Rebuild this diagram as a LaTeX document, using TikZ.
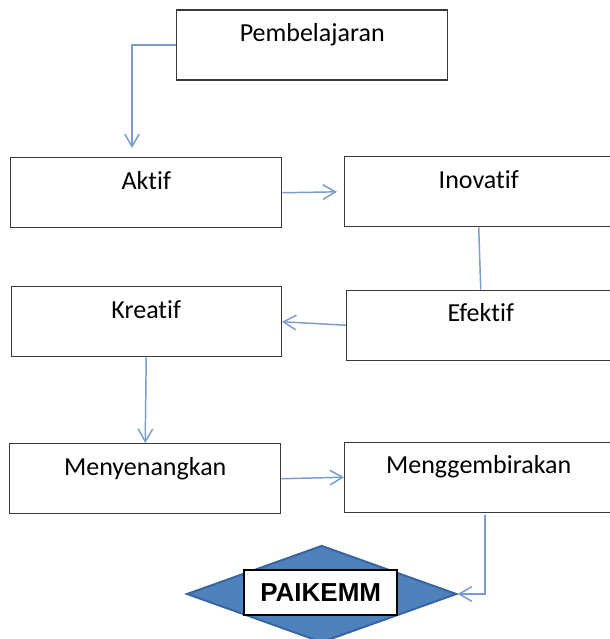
\documentclass[tikz,border=0pt]{standalone}
\usepackage{fontspec}
\setmainfont{Carlito}[RawFeature={-liga;-clig}]
\newfontfamily\arialfont{Liberation Sans}
\usetikzlibrary{arrows.meta,shapes.geometric,calc}
\newdimen\PX \PX=0.75pt
\definecolor{conncol}{HTML}{7A9CCF}
\definecolor{boxline}{HTML}{3A3A3A}
\definecolor{dfill}{HTML}{4F81BD}
\definecolor{dline}{HTML}{3A64A0}
\begin{document}
\begin{tikzpicture}[x=0.75pt,y=-0.75pt,
  box/.style={draw=boxline, line width=1.1pt, fill=white, inner sep=0pt, anchor=north west,
    text height=31.5\PX, text depth=38.5\PX, minimum height=70\PX,
    font=\fontsize{19.5}{22}\selectfont},
  conn/.style={draw=conncol, line width=1.1pt, -{Straight Barb[length=9.5pt,width=11pt]}},
  connplain/.style={draw=conncol, line width=1.1pt}
]
\clip (0,0) rectangle (610,639);
\fill[white] (0,0) rectangle (610,639);

\node[box, minimum width=271\PX] (P) at (176,9.3) {Pembelajaran};
\node[box, minimum width=271\PX] (A) at (10,157) {Aktif};
\node[box, minimum width=268\PX] (I) at (344,156) {Inovatif};
\node[box, minimum width=270\PX] (K) at (10.5,286) {Kreatif};
\node[box, minimum width=268\PX] (E) at (346,289.5) {Efektif};
\node[box, minimum width=271\PX] (M) at (9,443) {Menyenangkan};
\node[box, minimum width=268\PX] (G) at (344,441.5) {Menggembirakan};

\node[diamond, draw=dline, line width=1.5pt, fill=dfill, inner sep=0pt,
  minimum width=270\PX, minimum height=97\PX] (D) at (321.7,594) {};
\node[draw=black, line width=1.5pt, fill=white, inner sep=0pt,
  minimum width=153\PX, minimum height=45\PX,
  font=\arialfont\bfseries\fontsize{19.5}{22}\selectfont] (T) at (320.7,592.5) {PAIKEMM};

\coordinate (c1) at (132,148);
\coordinate (c2) at (485,515);

\draw[conn] (P.west) -| (c1);
\draw[conn, shorten >=7\PX] (A.east) -- (I.west);
\draw[connplain] (I.south) -- (E.north);
\draw[conn] (E.west) -- (K.east);
\draw[conn] (K.south) -- (M.north);
\draw[conn] (M.east) -- (G.west);
\draw[conn] (c2) |- (D.east);
\end{tikzpicture}
\end{document}
